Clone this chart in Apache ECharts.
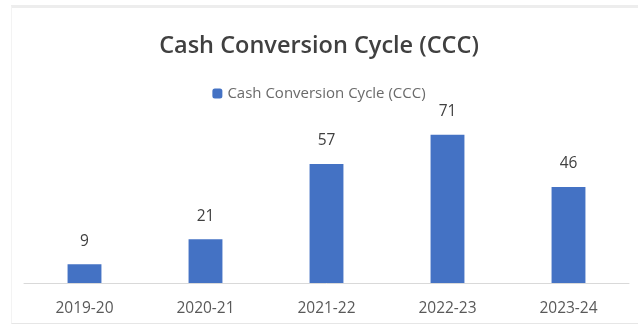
<!DOCTYPE html>
<html>
<head>
<meta charset="utf-8">
<script src="https://cdn.jsdelivr.net/npm/echarts@6/dist/echarts.min.js"></script>
<style>
html,body{margin:0;padding:0;background:#fff;}
#frame{position:absolute;left:11px;top:5px;width:627px;height:319px;border-top:3px solid #ededed;border-left:1px solid #f3f3f3;border-bottom:1px solid #e6e6e6;box-sizing:border-box;}
#chart{position:absolute;left:0;top:0;width:638px;height:328px;}
</style>
</head>
<body>
<div id="frame"></div>
<div id="chart"></div>
<script>
const titleText = 'Cash Conversion Cycle (CCC)';
const seriesName = 'Cash Conversion Cycle (CCC)';
const categories = ['2019-20', '2020-21', '2021-22', '2022-23', '2023-24'];
const cccValues = [9, 21, 57, 71, 46];

const chart = echarts.init(document.getElementById('chart'), null, {renderer: 'canvas'});
chart.setOption({
  backgroundColor: 'transparent',
  animation: false,
  title: {
    text: titleText,
    left: 'center',
    top: 29,
    textStyle: {fontFamily: 'Open Sans', fontSize: 23.5, fontWeight: 600, color: '#404040'}
  },
  legend: {
    data: [seriesName],
    top: 81,
    left: 'center',
    itemWidth: 10,
    itemHeight: 10,
    itemGap: 7,
    textStyle: {fontFamily: 'Open Sans', fontSize: 15, color: '#6a6a6a'}
  },
  grid: {left: 24, right: 9, top: 116, bottom: 45, containLabel: false},
  xAxis: {
    type: 'category',
    data: categories,
    axisLine: {show: true, lineStyle: {color: '#d9d9d9', width: 1}},
    axisTick: {show: false},
    axisLabel: {fontFamily: 'Open Sans', fontSize: 15.5, color: '#595959', margin: 18}
  },
  yAxis: {
    type: 'value',
    min: 0,
    max: 80,
    interval: 10,
    show: false,
    splitLine: {show: false}
  },
  series: [{
    name: seriesName,
    type: 'bar',
    data: cccValues,
    barWidth: '28%',
    itemStyle: {color: '#4472C4'},
    label: {
      show: true,
      position: 'top',
      distance: 15,
      fontFamily: 'Open Sans',
      fontSize: 15.5,
      color: '#404040'
    }
  }]
});
</script>
</body>
</html>
